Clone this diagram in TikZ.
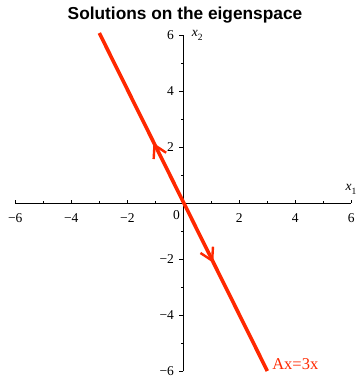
\documentclass[tikz,border=0pt]{standalone}
\usepackage{fontspec}
\usetikzlibrary{calc}
\setmainfont{Liberation Serif}
\newfontfamily\titlefont{Liberation Sans}
\definecolor{eigred}{RGB}{255,40,0}
\begin{document}
\begin{tikzpicture}[x=28pt,y=28pt,
  axisline/.style={line width=0.8pt,black},
  axtick/.style={line width=0.7pt,black},
  ticklbl/.style={font=\fontsize{13.5}{14}\selectfont, inner sep=0pt},
  axlbl/.style={font=\fontsize{13.5}{14}\selectfont, inner sep=0pt, anchor=base west},
  solline/.style={eigred,line width=3.6pt},
  chevron/.style={eigred,line width=2.4pt,line join=miter}]
\useasboundingbox (-6.547,-6.214) rectangle (6.204,7.25);
% title
\node[anchor=base, inner sep=0pt, font=\titlefont\bfseries\fontsize{17.3}{20}\selectfont] (title) at (0.06,6.54) {Solutions on the eigenspace};
% axes
\coordinate (xa) at (-6,0); \coordinate (xb) at (6,0);
\coordinate (ya) at (0,-6); \coordinate (yb) at (0,6);
\draw[axisline] (xa) -- (xb);
\draw[axisline] (ya) -- (yb);
% ticks
\foreach \i in {-6,-4,-2,2,4,6} {
  \draw[axtick] (\i,0) -- ++(0,3.5pt);
  \draw[axtick] (0,\i) -- ++(-4pt,0);
}
\foreach \i in {-5,-3,-1,1,3,5} {
  \draw[axtick] (\i,0) -- ++(0,2pt);
  \draw[axtick] (0,\i) -- ++(-2pt,0);
}
% tick labels
\foreach \i/\t in {-6/−6,-4/−4,-2/−2,2/2,4/4,6/6} {
  \node[ticklbl,anchor=base] (xt\i) at (\i,-0.68) {\t};
  \node[ticklbl,anchor=base east] (yt\i) at (-0.33,\i-0.17) {\t};
}
\node[ticklbl] (zero) at (-0.24,-0.43) {0};
% axis labels
\node[axlbl] (x1) at (5.79,0.46) {\textit{x}\raisebox{-4.5pt}{\fontsize{9.5}{10}\selectfont 1}};
\node[axlbl] (x2) at (0.3,5.96) {\textit{x}\raisebox{-4.5pt}{\fontsize{9.5}{10}\selectfont 2}};
% solution line
\coordinate (P) at (-3,6.07);
\coordinate (Q) at (3,-6.0);
\draw[solline] (P) -- (Q);
% direction chevrons
\coordinate (T1) at (-1.03,2.07);
\coordinate (T2) at (1.03,-2.06);
\draw[chevron] ($(T1)+(-33.4:0.5)$) -- (T1) -- ($(T1)+(-93.4:0.5)$);
\draw[chevron] ($(T2)+(146.6:0.5)$) -- (T2) -- ($(T2)+(86.6:0.5)$);
% label
\node[anchor=base west, inner sep=0pt, text=eigred, font=\fontsize{16.5}{18}\selectfont] (lbl) at (3.17,-5.93) {Ax=3x};
\end{tikzpicture}
\end{document}
